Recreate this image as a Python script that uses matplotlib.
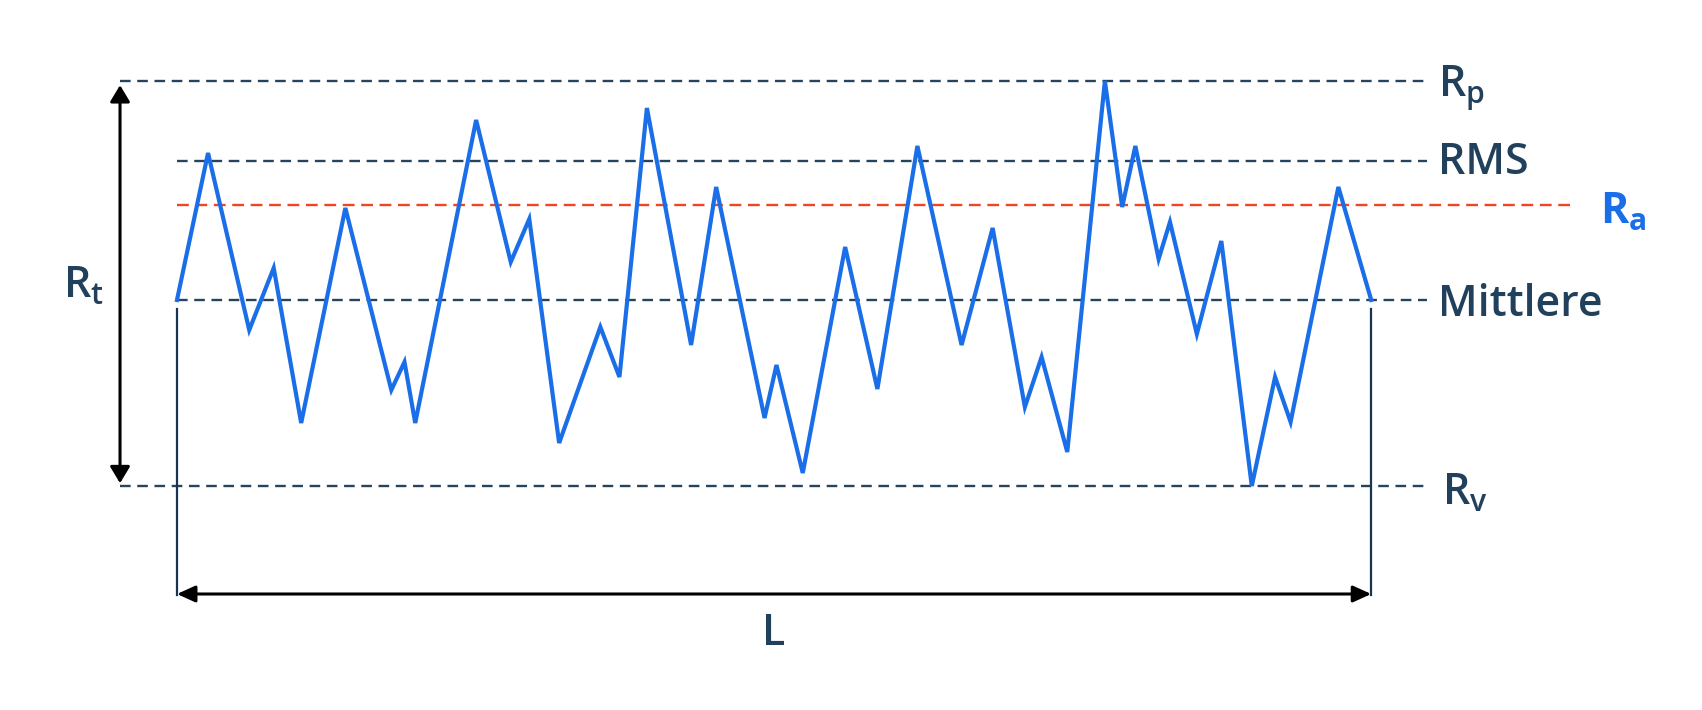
import matplotlib
matplotlib.use("Agg")
import matplotlib.pyplot as plt
from matplotlib.patches import FancyArrowPatch

plt.rcParams['font.family'] = ['Open Sans', 'DejaVu Sans']
plt.rcParams['mathtext.fontset'] = 'custom'
plt.rcParams['mathtext.rm'] = 'Open Sans:semibold'
plt.rcParams['mathtext.it'] = 'Open Sans:semibold'
plt.rcParams['mathtext.bf'] = 'Open Sans:bold'

# ---- data: surface profile (position along L in %, height in arbitrary units) ----
profile_x = [0, 2.6, 6.05, 8.1, 10.4, 14.1, 17.95, 19.05, 19.95, 25.05, 27.95, 29.5,
             32.0, 35.45, 37.05, 39.35, 43.05, 45.15, 49.2, 50.2, 52.4, 55.95, 58.65,
             62.0, 65.7, 68.3, 71.0, 72.4, 74.55, 77.7, 79.15, 80.25, 82.2, 83.15,
             85.4, 87.45, 90.0, 91.95, 93.25, 97.25, 100]
profile_y = [0, 14.7, -3.0, 3.2, -12.3, 9.2, -9.0, -6.2, -12.3, 18.0, 3.8, 8.1,
             -14.3, -2.7, -7.7, 19.2, -4.5, 11.3, -11.8, -6.5, -17.3, 5.3, -8.9,
             15.4, -4.5, 7.2, -10.7, -5.7, -15.2, 21.9, 9.3, 15.4, 4.1, 7.8,
             -3.4, 5.9, -18.6, -7.7, -12.2, 11.3, 0]

level_names = ['Rp', 'RMS', 'Ra', 'Mittlere', 'Rv']
level_values = [21.9, 13.9, 9.5, 0.0, -18.6]
level_labels = [r'$\mathrm{R_p}$', 'RMS', r'$\mathbf{R_a}$', 'Mittlere', r'$\mathrm{R_v}$']
rt_label = r'$\mathrm{R_t}$'
l_label = 'L'

# ---- styles ----
NAVY = '#27445f'
TEXT = '#20405c'
BLUE = '#1a6ee8'
RED = '#ee4624'
FS = 31

fig = plt.figure(figsize=(17.02, 7.10), dpi=100)
ax = fig.add_axes([0, 0, 1, 1])
ax.set_xlim(-14.82, 127.7)
ax.set_ylim(-41.0, 30.0)
ax.axis('off')

vals = dict(zip(level_names, level_values))
labs = dict(zip(level_names, level_labels))

# horizontal reference lines
extent = {'Rp': (-4.77, 104.66), 'RMS': (0, 104.66), 'Ra': (0, 117.0),
          'Mittlere': (0, 104.66), 'Rv': (-4.77, 104.66)}
for name in level_names:
    x0, x1 = extent[name]
    col = RED if name == 'Ra' else NAVY
    ax.plot([x0, x1], [vals[name]] * 2, color=col, lw=1.7,
            dashes=(4.5, 2.8) if name != 'Ra' else (5, 2.8), zorder=1)

# profile
ax.plot(profile_x, profile_y, color=BLUE, lw=3.0, solid_joinstyle='miter', zorder=3)

# labels on the right
label_pos = {'Rp': (105.6, 20.3), 'RMS': (105.6, 12.6), 'Ra': (119.2, 7.6),
             'Mittlere': (105.6, -1.6), 'Rv': (105.9, -20.5)}
for name in level_names:
    x, y = label_pos[name]
    if name == 'Ra':
        ax.text(x, y, labs[name], color=BLUE, fontsize=FS, fontweight='bold',
                ha='left', va='baseline')
    else:
        ax.text(x, y, labs[name], color=TEXT, fontsize=FS, fontweight='semibold',
                ha='left', va='baseline')

# Rt arrow
arr = FancyArrowPatch((-4.77, vals['Rp']), (-4.77, vals['Rv']),
                      arrowstyle='<|-|>,head_length=0.5,head_width=0.3',
                      mutation_scale=20, color='black', lw=2.2,
                      shrinkA=3, shrinkB=2, zorder=4)
ax.add_patch(arr)
ax.text(-9.52, 0.2, rt_label, color=TEXT, fontsize=FS, ha='left', va='baseline')

# L boundaries and arrow
for xb in (profile_x[0], profile_x[-1]):
    ax.plot([xb, xb], [-0.9, -29.5], color='#183450', lw=1.6, zorder=2)
arr2 = FancyArrowPatch((profile_x[0], -29.4), (profile_x[-1], -29.4),
                       arrowstyle='<|-|>,head_length=0.55,head_width=0.25',
                       mutation_scale=20, color='black', lw=2.2,
                       shrinkA=0, shrinkB=0, zorder=4)
ax.add_patch(arr2)
ax.text(50.0, -34.5, l_label, color=TEXT, fontsize=FS, fontweight='semibold',
        ha='center', va='baseline')

fig.savefig('out.png', dpi=100, facecolor='white')
